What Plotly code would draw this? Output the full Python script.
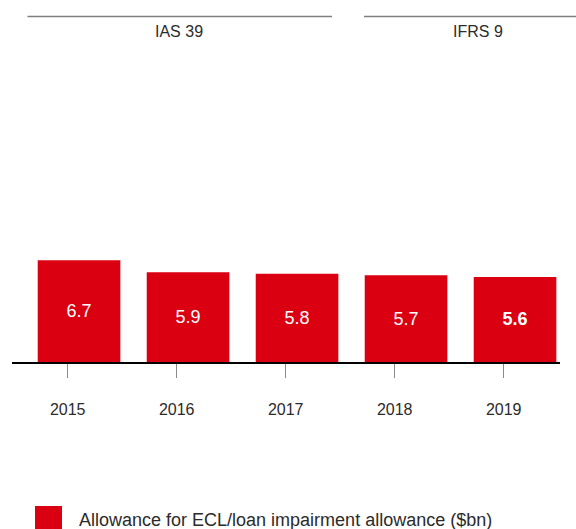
import plotly.graph_objects as go

# Allowance for ECL / loan impairment allowance, $bn
years = ["2015", "2016", "2017", "2018", "2019"]
allowance_bn = [6.7, 5.9, 5.8, 5.7, 5.6]
standards = ["IAS 39", "IFRS 9"]
legend_label = "Allowance for ECL/loan impairment allowance ($bn)"

RED = "#DB0011"
TEXT = "#2b2b2b"
FONT = "Arial, Liberation Sans, sans-serif"

W, H = 576, 529
L, R, T, B = 12, 16, 60, 167
plot_w = W - L - R
plot_h = H - T - B


def px(xp):
    return (xp - L) / plot_w


def py(yp):
    return (H - B - yp) / plot_h


positions = list(range(len(years)))
labels = [f"{v:.1f}" for v in allowance_bn]
labels[-1] = f"<b>{labels[-1]}</b>"

fig = go.Figure(
    go.Bar(
        x=positions,
        y=allowance_bn,
        width=0.758,
        offset=-0.275,
        marker=dict(color=RED, line=dict(width=0)),
        text=labels,
        textposition="inside",
        insidetextanchor="middle",
        textfont=dict(color="white", size=18, family=FONT),
        hoverinfo="skip",
    )
)

ymax = plot_h / 15.2

fig.update_layout(
    width=W,
    height=H,
    margin=dict(l=L, r=R, t=T, b=B, pad=0),
    paper_bgcolor="white",
    plot_bgcolor="white",
    showlegend=False,
    font=dict(family=FONT, color=TEXT, size=16),
    xaxis=dict(
        range=[(L - 67.7) / 109, (W - R - 67.7) / 109],
        tickvals=positions,
        ticktext=years,
        ticks="outside",
        ticklen=14,
        tickwidth=1,
        tickcolor="#8a8a8a",
        showline=True,
        linecolor="black",
        linewidth=2,
        showgrid=False,
        zeroline=False,
        tickfont=dict(size=16, color=TEXT),
        ticklabelstandoff=18,
        fixedrange=True,
    ),
    yaxis=dict(
        range=[0, ymax],
        visible=False,
        showgrid=False,
        zeroline=False,
        fixedrange=True,
    ),
)

# Accounting-standard brackets across the top
brackets = [(27.5, 332, 178.5), (364, 580, 478)]
for name, (x0, x1, xc) in zip(standards, brackets):
    fig.add_shape(
        type="line", xref="paper", yref="paper",
        x0=px(x0), x1=px(x1), y0=py(16.5), y1=py(16.5),
        line=dict(color="#7f7f7f", width=1.5),
    )
    fig.add_annotation(
        text=name, xref="paper", yref="paper",
        x=px(xc), y=py(32), xanchor="center", yanchor="middle",
        showarrow=False, font=dict(size=16, color=TEXT, family=FONT),
    )

# Legend key
fig.add_shape(
    type="rect", xref="paper", yref="paper",
    x0=px(35), x1=px(62), y0=py(506), y1=py(533),
    fillcolor=RED, line=dict(width=0),
)
fig.add_annotation(
    text=legend_label, xref="paper", yref="paper",
    x=px(77), y=py(520), xanchor="left", yanchor="middle",
    showarrow=False, font=dict(size=18, color=TEXT, family=FONT),
)

fig.write_html("out.html")
